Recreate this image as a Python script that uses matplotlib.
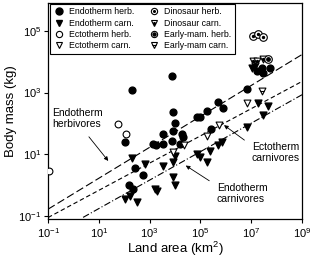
import numpy as np
import matplotlib
matplotlib.use("Agg")
import matplotlib.pyplot as plt
from matplotlib.lines import Line2D
from matplotlib.legend_handler import HandlerTuple

plt.rcParams['font.family'] = ['Liberation Sans', 'DejaVu Sans']
plt.rcParams['mathtext.fontset'] = 'custom'
plt.rcParams['mathtext.rm'] = 'Liberation Sans'
plt.rcParams['mathtext.it'] = 'Liberation Sans:italic'

# values, as log10(area km2) and log10(mass kg)
endo_herb_logA = [2.30, 2.03, 3.27, 2.43, 2.75, 2.19, 2.35, 3.87, 3.93, 4.00, 3.93, 4.33,
                  4.20, 3.87, 3.54, 3.15, 4.85, 5.00, 5.25, 5.70, 5.88, 5.41, 6.85, 7.22,
                  7.41, 7.74, 7.48, 3.54, 4.26]
endo_herb_logM = [3.08, 1.39, 1.31, 0.56, 0.33, 0.00, -0.11, 3.55, 2.36, 2.03, 1.75, 1.56,
                  1.34, 1.45, 1.34, 1.34, 2.22, 2.22, 2.40, 2.71, 2.51, 1.81, 3.13, 3.69,
                  3.79, 3.79, 3.63, 1.67, 1.67]

endo_carn_logA = [2.30, 2.82, 3.28, 2.03, 2.49, 2.23, 4.00, 3.93, 3.54, 3.93, 4.00, 3.21,
                  4.85, 4.98, 5.38, 5.70, 5.84, 5.25, 6.82, 7.28, 7.67, 7.48, 7.02, 7.15]
endo_carn_logM = [0.89, 0.69, -0.18, -0.43, -0.54, -0.35, 0.96, 0.75, 0.61, 0.26, 0.00, -0.13,
                  1.02, 0.91, 1.12, 1.29, 1.40, 0.75, 1.89, 2.65, 2.58, 2.27, 3.79, 3.85]

ecto_herb_logA = [-0.96, 1.74, 2.07]
ecto_herb_logM = [0.46, 1.97, 1.65]

ecto_carn_logA = [5.73, 5.25, 4.34, 3.93, 6.82]
ecto_carn_logM = [1.94, 1.60, 1.29, 1.07, 2.65]

dino_herb_logA = [7.08, 7.28, 7.48]
dino_herb_logM = [4.83, 4.88, 4.81]

dino_carn_logA = [7.08, 7.22, 7.48]
dino_carn_logM = [4.01, 4.01, 4.07]

mam_herb_logA = [7.67]
mam_herb_logM = [4.07]

mam_carn_logA = [7.41]
mam_carn_logM = [3.04]

# regression lines: log10(M) = a + b*log10(A)
fit_endo_herb = (-0.27, 0.50)
fit_ecto_carn = (-0.60, 0.44)
fit_endo_carn = (-1.21, 0.46)


def p(v):
    return 10 ** np.array(v)


fig = plt.figure(figsize=(3.12, 2.62), dpi=100)
ax = fig.add_axes([0.154, 0.165, 0.814, 0.824])

ms = 24
ax.scatter(p(endo_herb_logA), p(endo_herb_logM), s=ms, marker='o', c='black', zorder=3)
ax.scatter(p(endo_carn_logA), p(endo_carn_logM), s=ms, marker='v', c='black', zorder=3)
ax.scatter(p(ecto_herb_logA), p(ecto_herb_logM), s=ms, marker='o', facecolors='white',
           edgecolors='black', linewidths=0.8, zorder=3)
ax.scatter(p(ecto_carn_logA), p(ecto_carn_logM), s=ms, marker='v', facecolors='white',
           edgecolors='black', linewidths=0.8, zorder=3)
ax.scatter(p(dino_herb_logA), p(dino_herb_logM), s=ms + 6, marker='o', facecolors='white',
           edgecolors='black', linewidths=0.8, zorder=3)
ax.scatter(p(dino_herb_logA), p(dino_herb_logM), s=2, marker='o', c='black', zorder=4)
ax.scatter(p(dino_carn_logA), p(dino_carn_logM), s=ms, marker='v', facecolors='white',
           edgecolors='black', linewidths=0.8, zorder=3)
ax.scatter(p(dino_carn_logA), p(dino_carn_logM), s=2, marker='o', c='black', zorder=4)
ax.scatter(p(mam_herb_logA), p(mam_herb_logM), s=ms + 6, marker='o', facecolors='white',
           edgecolors='black', linewidths=0.8, zorder=3)
ax.scatter(p(mam_herb_logA), p(mam_herb_logM), s=6, marker='o', c='black', zorder=4)
ax.scatter(p(mam_carn_logA), p(mam_carn_logM), s=ms, marker='v', facecolors='white',
           edgecolors='black', linewidths=0.8, zorder=3)
ax.scatter(p(mam_carn_logA), p(mam_carn_logM), s=8, marker='_', c='black', linewidths=0.8,
           zorder=4)

xa = np.array([-1.0, 9.0])
a, b = fit_endo_herb
ax.plot(p(xa), p(a + b * xa), color='black', lw=0.8, dashes=(7, 3))
a, b = fit_ecto_carn
ax.plot(p(xa), p(a + b * xa), color='black', lw=0.8, dashes=(4, 2.5))
xb = np.array([0.38, 9.0])
a, b = fit_endo_carn
ax.plot(p(xb), p(a + b * xb), color='black', lw=0.8, dashes=(6, 2, 1, 2))

# annotations
fs = 7.5
ax.text(10 ** -0.84, 10 ** 2.49, 'Endotherm\nherbivores', fontsize=fs, va='top', ha='left',
        linespacing=1.1)
ax.annotate('', xy=(10 ** 1.44, 10 ** 0.72), xytext=(10 ** 0.54, 10 ** 1.64),
            arrowprops=dict(arrowstyle='-|>', lw=0.6, color='black', mutation_scale=6))
ax.text(10 ** 7.03, 10 ** 1.41, 'Ectotherm\ncarnivores', fontsize=fs, va='top', ha='left',
        linespacing=1.1)
ax.annotate('', xy=(10 ** 5.84, 10 ** 2.0), xytext=(10 ** 6.82, 10 ** 1.41),
            arrowprops=dict(arrowstyle='-|>', lw=0.6, color='black', mutation_scale=6))
ax.text(10 ** 5.65, 10 ** 0.07, 'Endotherm\ncarnivores', fontsize=fs, va='top', ha='left',
        linespacing=1.1)
ax.annotate('', xy=(10 ** 4.33, 10 ** 0.69), xytext=(10 ** 5.44, 10 ** 0.10),
            arrowprops=dict(arrowstyle='-|>', lw=0.6, color='black', mutation_scale=6))

ax.set_xscale('log')
ax.set_yscale('log')
ax.set_xlim(10 ** -1, 10 ** 9)
ax.set_ylim(10 ** -1.08, 10 ** 5.9)
ax.set_xticks([10.0 ** k for k in [-1, 1, 3, 5, 7, 9]])
ax.set_yticks([10.0 ** k for k in [-1, 1, 3, 5]])
ax.minorticks_off()
ax.tick_params(direction='out', length=3, width=0.8, labelsize=8, pad=2)
for s in ax.spines.values():
    s.set_linewidth(0.9)
ax.set_xlabel('Land area (km$^2$)', fontsize=9.5, labelpad=0)
ax.set_ylabel('Body mass (kg)', fontsize=9.5, labelpad=1)

# legend
def open_m(m, size=4.5):
    return Line2D([], [], ls='none', marker=m, ms=size, mfc='white', mec='black', mew=0.8)

def dot(size):
    return Line2D([], [], ls='none', marker='o', ms=size, mfc='black', mec='black')

handles = [
    Line2D([], [], ls='none', marker='o', ms=5, color='black'),
    Line2D([], [], ls='none', marker='v', ms=5, color='black'),
    open_m('o'),
    open_m('v'),
    (open_m('o'), dot(1.2)),
    (open_m('v'), dot(1.2)),
    (open_m('o'), dot(2.2)),
    (open_m('v'), Line2D([], [], ls='none', marker='_', ms=3, mec='black', mew=0.8)),
]
labels = ['Endotherm herb.', 'Endotherm carn.', 'Ectotherm herb.', 'Ectotherm carn.',
          'Dinosaur herb.', 'Dinosaur carn.', 'Early-mam. herb.', 'Early-mam carn.']
leg = ax.legend(handles, labels, ncol=2, loc='upper left', bbox_to_anchor=(0.008, 0.995),
                fontsize=6.3, handler_map={tuple: HandlerTuple(ndivide=1)},
                frameon=True, fancybox=False, framealpha=1, edgecolor='black',
                handlelength=1.2, handletextpad=0.6, columnspacing=1.6,
                labelspacing=0.25, borderpad=0.4, borderaxespad=0)
leg.get_frame().set_linewidth(0.8)

fig.savefig('out.png', dpi=100)
